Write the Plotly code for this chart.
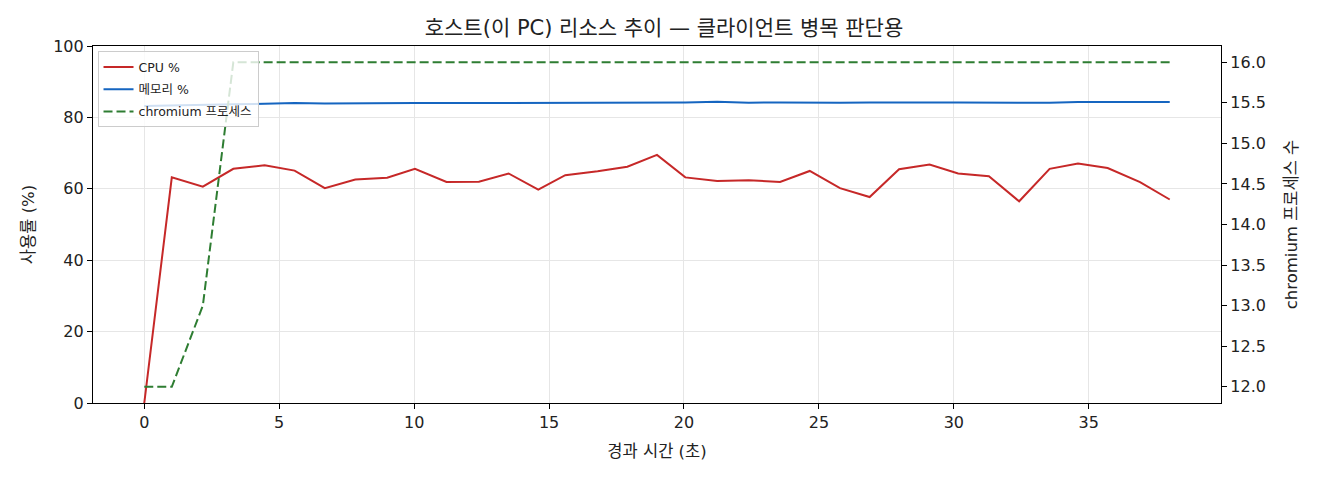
import plotly.graph_objects as go

# 경과 시간 (초)
elapsed = [0, 1.02, 2.17, 3.3, 4.46, 5.57, 6.69, 7.82, 9.0, 10.03, 11.2, 12.4,
           13.5, 14.6, 15.6, 16.8, 17.9, 19.0, 20.05, 21.23, 22.4, 23.56, 24.66,
           25.78, 26.88, 27.97, 29.1, 30.16, 31.3, 32.42, 33.55, 34.6, 35.7,
           36.9, 38.0]

cpu_pct = [0, 63.2, 60.6, 65.6, 66.6, 65.1, 60.2, 62.6, 63.1, 65.6, 61.9, 62.0,
           64.3, 59.8, 63.8, 64.9, 66.2, 69.5, 63.2, 62.2, 62.4, 61.9, 65.0,
           60.2, 57.7, 65.5, 66.8, 64.3, 63.5, 56.5, 65.6, 67.1, 65.8, 61.9, 57.0]

mem_pct = [83.2, 83.4, 83.5, 83.7, 83.8, 84.0, 83.9, 84.0, 83.9, 84.0, 84.0, 84.0,
           84.1, 84.1, 84.1, 84.1, 84.2, 84.2, 84.2, 84.4, 84.1, 84.2, 84.1,
           84.1, 84.2, 84.1, 84.2, 84.2, 84.1, 84.1, 84.1, 84.3, 84.3, 84.2, 84.3]

chromium_cnt = [12, 12, 13] + [16] * 32

FONT = "DejaVu Sans, Noto Sans CJK KR, sans-serif"

fig = go.Figure()
fig.add_trace(go.Scatter(x=elapsed, y=cpu_pct, mode="lines", name="CPU %",
                         legendgroup="a",
                         line=dict(color="#c62828", width=2)))
fig.add_trace(go.Scatter(x=elapsed, y=mem_pct, mode="lines", name="메모리 %",
                         legendgroup="b",
                         line=dict(color="#1565c0", width=2)))
fig.add_trace(go.Scatter(x=elapsed, y=chromium_cnt, mode="lines", name="chromium 프로세스",
                         yaxis="y2", legendgroup="c",
                         line=dict(color="#2e7d32", width=2, dash="9px,4px")))

axis_common = dict(showline=True, linecolor="black", linewidth=1.2, mirror=True,
                   ticks="outside", ticklen=5, tickcolor="black", zeroline=False,
                   tickfont=dict(size=16, color="#222"))

# page body has an 8px margin, so the figure is drawn 8px smaller
fig.update_layout(
    width=1312, height=472,
    margin=dict(l=85, r=99, t=38, b=77),
    paper_bgcolor="white", plot_bgcolor="white",
    font=dict(family=FONT, color="#222"),
    title=dict(text="호스트(이 PC) 리소스 추이 — 클라이언트 병목 판단용",
               x=0.5, xanchor="center", y=1 - 20 / 472, yanchor="middle",
               font=dict(size=21, color="#222")),
    xaxis=dict(range=[-1.9, 39.9], dtick=5, showgrid=True, gridcolor="#e6e6e6",
               title=dict(text="경과 시간 (초)", font=dict(size=16.5), standoff=14),
               **axis_common),
    yaxis=dict(range=[0, 100], dtick=20, showgrid=True, gridcolor="#e6e6e6",
               title=dict(text="사용률 (%)", font=dict(size=16.5), standoff=14),
               **axis_common),
    yaxis2=dict(range=[11.8, 16.2], dtick=0.5, tickformat=".1f", overlaying="y",
                side="right", showgrid=False, showline=True, linecolor="black",
                linewidth=1.2, ticks="outside", ticklen=5, tickcolor="black",
                zeroline=False, tickfont=dict(size=16, color="#222"),
                title=dict(text="chromium 프로세스 수", font=dict(size=16.5), standoff=20)),
    legend=dict(x=0.004, y=0.985, xanchor="left", yanchor="top",
                bgcolor="rgba(255,255,255,0.8)", bordercolor="#cccccc", borderwidth=1,
                font=dict(size=12.5, color="#222"), tracegroupgap=3),
    showlegend=True,
)

fig.write_html("out.html")
